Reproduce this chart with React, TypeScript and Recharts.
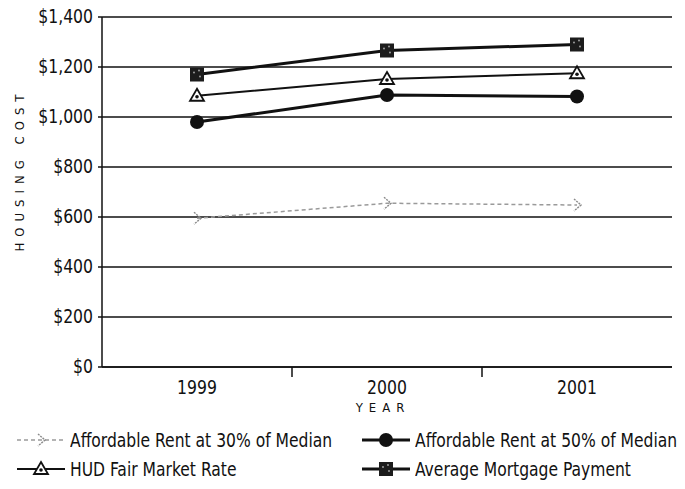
import React from "react";
import {
  LineChart,
  Line,
  XAxis,
  YAxis,
  CartesianGrid,
  Legend,
} from "recharts";

const years = ["1999", "2000", "2001"];
const rent30 = [595, 655, 648];
const rent50 = [980, 1088, 1082];
const hudFmr = [1085, 1152, 1175];
const mortgage = [1170, 1266, 1290];
const costTicks = [0, 200, 400, 600, 800, 1000, 1200, 1400];

const chartData = years.map((year, i) => ({
  year,
  rent30: rent30[i],
  rent50: rent50[i],
  hud: hudFmr[i],
  mortgage: mortgage[i],
}));

const FONT = "'DejaVu Sans Condensed', 'Liberation Sans', sans-serif";

const Chevron = ({ cx, cy }: any) => (
  <path
    d={`M${cx - 3},${cy - 6} L${cx + 4},${cy} L${cx - 3},${cy + 6}`}
    fill="none"
    stroke="#8a8a8a"
    strokeWidth={1.4}
    strokeDasharray="2 1"
  />
);

const Circle = ({ cx, cy }: any) => <circle cx={cx} cy={cy} r={7} fill="#111" />;

const Triangle = ({ cx, cy }: any) => (
  <g>
    <path
      d={`M${cx},${cy - 7} L${cx + 7},${cy + 5} L${cx - 7},${cy + 5} Z`}
      fill="#fff"
      stroke="#111"
      strokeWidth={1.8}
    />
    <circle cx={cx} cy={cy + 1} r={1.8} fill="#111" />
  </g>
);

const Square = ({ cx, cy }: any) => (
  <g>
    <rect x={cx - 7} y={cy - 7} width={14} height={14} fill="#1c1c1c" />
    <circle cx={cx - 3} cy={cy - 2} r={0.9} fill="#aaa" />
    <circle cx={cx + 3} cy={cy + 2} r={0.9} fill="#aaa" />
    <circle cx={cx + 2} cy={cy - 4} r={0.9} fill="#aaa" />
  </g>
);

const series = [
  { key: "rent30", name: "Affordable Rent at 30% of Median", stroke: "#9a9a9a", width: 1.5, dash: "4 3", Dot: Chevron },
  { key: "rent50", name: "Affordable Rent at 50% of Median", stroke: "#111", width: 3, dash: undefined, Dot: Circle },
  { key: "hud", name: "HUD Fair Market Rate", stroke: "#111", width: 2, dash: undefined, Dot: Triangle },
  { key: "mortgage", name: "Average Mortgage Payment", stroke: "#111", width: 3, dash: undefined, Dot: Square },
];

// narrow text, the source uses a condensed face
const NarrowText = ({ x, y, anchor, children }: any) => (
  <text
    transform={`translate(${x},${y}) scale(0.87,1)`}
    textAnchor={anchor}
    dominantBaseline="middle"
    fontFamily={FONT}
    fontSize={20}
    fill="#111"
  >
    {children}
  </text>
);

const YearTick = ({ x, y, payload, index }: any) => (
  <g>
    <NarrowText x={x} y={y + 13} anchor="middle">
      {payload.value}
    </NarrowText>
    {index < years.length - 1 && (
      <line x1={x + 95} x2={x + 95} y1={y - 8} y2={y + 2} stroke="#111" strokeWidth={1.5} />
    )}
  </g>
);

const CostTick = ({ x, y, payload }: any) => (
  <NarrowText x={x} y={y} anchor="end">
    {`$${payload.value.toLocaleString("en-US")}`}
  </NarrowText>
);

const LegendContent = () => (
  <div
    style={{
      display: "grid",
      gridTemplateColumns: "345px 325px",
      rowGap: 9,
      paddingLeft: 15,
      fontFamily: FONT,
      fontSize: 19,
      color: "#111",
    }}
  >
    {series.map((s) => (
      <div key={s.key} style={{ display: "flex", alignItems: "center", height: 20, whiteSpace: "nowrap" }}>
        <svg width={52} height={18} style={{ marginRight: 3, flex: "none" }}>
          <line x1={2} x2={50} y1={9} y2={9} stroke={s.stroke} strokeWidth={s.width} strokeDasharray={s.dash} />
          <s.Dot cx={26} cy={9} />
        </svg>
        <span style={{ display: "inline-block", transform: "scaleX(0.91)", transformOrigin: "left center" }}>
          {s.name}
        </span>
      </div>
    ))}
  </div>
);

export default function App() {
  return (
    <div style={{ position: "absolute", left: 0, top: 0, width: 685, height: 489, background: "#fff" }}>
      <LineChart width={685} height={489} data={chartData} margin={{ top: 17, right: 13, left: 0, bottom: 72 }}>
        <CartesianGrid vertical={false} stroke="#111" strokeWidth={1.5} />
        <XAxis
          dataKey="year"
          padding={{ left: 95, right: 95 }}
          height={50}
          axisLine={{ stroke: "#111", strokeWidth: 1.5 }}
          tickLine={false}
          tick={<YearTick />}
          label={{
            content: ({ viewBox }: any) => (
              <text
                x={viewBox.x + viewBox.width / 2 - 4}
                y={viewBox.y + 41}
                textAnchor="middle"
                dominantBaseline="middle"
                fontFamily={FONT}
                fontSize={13}
                fill="#111"
                style={{ letterSpacing: 6 }}
              >
                YEAR
              </text>
            ),
          }}
        />
        <YAxis
          width={102}
          domain={[0, 1400]}
          ticks={costTicks}
          interval={0}
          axisLine={{ stroke: "#111", strokeWidth: 1.5 }}
          tickLine={{ stroke: "#111", strokeWidth: 1.5 }}
          tickSize={4}
          tickMargin={5}
          tick={<CostTick />}
          label={{
            content: ({ viewBox }: any) => {
              const cx = viewBox.x + 20;
              const cy = viewBox.y + viewBox.height / 2 - 22;
              return (
                <text
                  x={cx}
                  y={cy}
                  transform={`rotate(-90 ${cx} ${cy})`}
                  textAnchor="middle"
                  dominantBaseline="middle"
                  fontFamily={FONT}
                  fontSize={13}
                  fill="#111"
                  style={{ letterSpacing: 6 }}
                >
                  HOUSING COST
                </text>
              );
            },
          }}
        />
        <Legend
          layout="horizontal"
          verticalAlign="middle"
          align="center"
          wrapperStyle={{ top: 430, left: 0, width: 685 }}
          content={<LegendContent />}
        />
        {series.map((s) => (
          <Line
            key={s.key}
            dataKey={s.key}
            name={s.name}
            stroke={s.stroke}
            strokeWidth={s.width}
            strokeDasharray={s.dash}
            dot={<s.Dot />}
            activeDot={false}
            isAnimationActive={false}
          />
        ))}
      </LineChart>
    </div>
  );
}
